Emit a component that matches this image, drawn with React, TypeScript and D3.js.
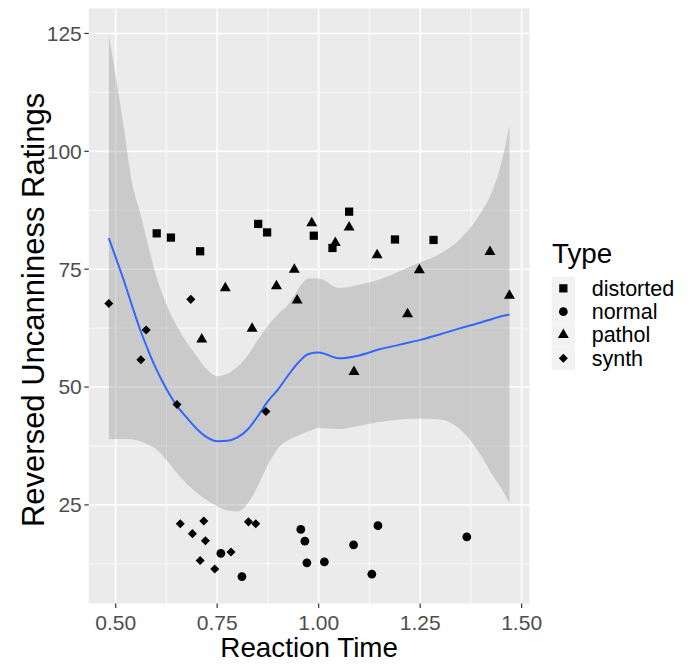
import React from 'react';
import * as d3 from 'd3';

// points, one pair of arrays per Type
const distortedRT = [0.601, 0.636, 0.708, 0.851, 0.873, 0.988, 1.034, 1.075, 1.188, 1.283];
const distortedRating = [82.6, 81.7, 78.8, 84.6, 82.8, 82.1, 79.5, 87.2, 81.3, 81.2];
const normalRT = [0.759, 0.811, 0.956, 0.966, 0.971, 1.014, 1.086, 1.131, 1.146, 1.365];
const normalRating = [14.7, 9.8, 19.8, 17.3, 12.7, 12.9, 16.5, 10.3, 20.6, 18.2];
const patholRT = [0.712, 0.77, 0.836, 0.896, 0.94, 0.947, 0.983, 1.041, 1.075, 1.087, 1.144, 1.219, 1.248, 1.422, 1.47];
const patholRating = [60.1, 71.0, 62.4, 71.4, 74.9, 68.4, 84.8, 80.6, 83.9, 53.2, 78.0, 65.5, 74.8, 78.7, 69.4];
const synthRT = [0.483, 0.562, 0.575, 0.651, 0.659, 0.685, 0.689, 0.708, 0.717, 0.721, 0.744, 0.784, 0.827, 0.845, 0.87];
const synthRating = [67.7, 55.8, 62.1, 46.3, 21.0, 68.6, 18.9, 13.2, 21.6, 17.4, 11.4, 15.0, 21.4, 21.0, 44.8];

// loess smooth + confidence band
const smoothX = [0.483, 0.5, 0.52, 0.54, 0.56, 0.58, 0.6, 0.625, 0.65, 0.675, 0.7, 0.725, 0.75, 0.775, 0.8, 0.825, 0.85, 0.875, 0.9, 0.925, 0.95, 0.975, 1.0, 1.05, 1.1, 1.15, 1.2, 1.25, 1.3, 1.35, 1.4, 1.43, 1.45, 1.47];
const smoothFit = [81.6, 77.5, 72.6, 67.3, 62.2, 57.8, 53.8, 49.6, 46.1, 43.5, 41.1, 39.3, 38.5, 38.6, 39.3, 41.0, 43.8, 47.0, 49.5, 52.5, 55.2, 57.0, 57.3, 56.1, 56.7, 58.0, 59.0, 60.0, 61.2, 62.5, 63.7, 64.5, 65.0, 65.4];
const smoothUpper = [124.6, 116, 105, 93.5, 87, 80, 73.5, 67.5, 63, 59.5, 56.5, 53.7, 52.3, 52.8, 54.3, 56.7, 60, 63, 65.5, 67.5, 70.8, 73, 73, 71, 71.7, 72.8, 74.6, 76.4, 78.3, 81.5, 87, 92, 97.5, 105.4];
const smoothLower = [38.9, 39, 39, 38.9, 38.5, 37.8, 36.8, 34.5, 31.8, 29.5, 27.6, 26, 24.7, 23.8, 23.6, 25.3, 29, 33.5, 37, 38.7, 39.7, 40.6, 41.3, 41.1, 41.8, 42.6, 43.1, 43.3, 43.1, 40.9, 35.5, 31.1, 28.5, 25.4];

const types = ['distorted', 'normal', 'pathol', 'synth'];
const xTicks = [0.5, 0.75, 1.0, 1.25, 1.5];
const xMinor = [0.625, 0.875, 1.125, 1.375];
const yTicks = [25, 50, 75, 100, 125];
const yMinor = [12.5, 37.5, 62.5, 87.5, 112.5];

const FONT = '"Liberation Sans", Arial, sans-serif';

const shapePath = (type: string) => {
  if (type === 'distorted') return d3.symbol(d3.symbolSquare, 68)()!;
  if (type === 'normal') return d3.symbol(d3.symbolCircle, 60)()!;
  if (type === 'pathol') return d3.symbol(d3.symbolTriangle, 52)()!;
  return d3.symbol(d3.symbolSquare, 41)()!; // rotated below -> diamond
};

const Marker = ({ type, x, y }: { type: string; x: number; y: number }) => (
  <path
    d={shapePath(type)}
    transform={`translate(${x},${y})${type === 'synth' ? ' rotate(45)' : ''}`}
    fill="#000"
  />
);

export default function App() {
  const width = 688;
  const height = 667;

  const x = d3.scaleLinear().domain([0.4337, 1.5194]).range([88.8, 529.5]);
  const y = d3.scaleLinear().domain([4.06, 130.34]).range([603.6, 8.3]);
  const [px0, px1] = x.range();
  const [py0, py1] = y.range();

  const idx = d3.range(smoothX.length);
  const band = d3
    .area<number>()
    .x((i) => x(smoothX[i]))
    .y0((i) => y(smoothLower[i]))
    .y1((i) => y(smoothUpper[i]))
    .curve(d3.curveMonotoneX);
  const fit = d3
    .line<number>()
    .x((i) => x(smoothX[i]))
    .y((i) => y(smoothFit[i]))
    .curve(d3.curveMonotoneX);

  const series = [
    { type: 'distorted', xs: distortedRT, ys: distortedRating },
    { type: 'normal', xs: normalRT, ys: normalRating },
    { type: 'pathol', xs: patholRT, ys: patholRating },
    { type: 'synth', xs: synthRT, ys: synthRating },
  ];

  const keyX = 551.7;
  const keyY = 276.7;
  const keyH = 23.3;

  return (
    <svg
      width={width}
      height={height}
      style={{ position: 'absolute', left: 0, top: 0, background: '#fff' }}
      fontFamily={FONT}
    >
      {/* panel */}
      <rect x={px0} y={py1} width={px1 - px0} height={py0 - py1} fill="#EBEBEB" />
      {xMinor.map((t) => (
        <line key={'xm' + t} x1={x(t)} x2={x(t)} y1={py1} y2={py0} stroke="#fff" strokeWidth={0.8} />
      ))}
      {yMinor.map((t) => (
        <line key={'ym' + t} x1={px0} x2={px1} y1={y(t)} y2={y(t)} stroke="#fff" strokeWidth={0.8} />
      ))}
      {xTicks.map((t) => (
        <line key={'xg' + t} x1={x(t)} x2={x(t)} y1={py1} y2={py0} stroke="#fff" strokeWidth={1.6} />
      ))}
      {yTicks.map((t) => (
        <line key={'yg' + t} x1={px0} x2={px1} y1={y(t)} y2={y(t)} stroke="#fff" strokeWidth={1.6} />
      ))}

      {/* smooth */}
      <path d={band(idx)!} fill="#999999" fillOpacity={0.4} />
      <path d={fit(idx)!} fill="none" stroke="#3366FF" strokeWidth={2} />

      {/* points, on top of the band */}
      {series.map((s) =>
        s.xs.map((v, i) => <Marker key={s.type + i} type={s.type} x={x(v)} y={y(s.ys[i])} />)
      )}

      {/* axes */}
      {xTicks.map((t) => (
        <g key={'xt' + t}>
          <line x1={x(t)} x2={x(t)} y1={py0} y2={py0 + 4.5} stroke="#333" strokeWidth={1.2} />
          <text x={x(t)} y={629.5} textAnchor="middle" fontSize={21} fill="#4D4D4D">
            {d3.format('.2f')(t)}
          </text>
        </g>
      ))}
      {yTicks.map((t) => (
        <g key={'yt' + t}>
          <line x1={px0 - 4.5} x2={px0} y1={y(t)} y2={y(t)} stroke="#333" strokeWidth={1.2} />
          <text x={px0 - 7} y={y(t)} dy="0.35em" textAnchor="end" fontSize={21} fill="#4D4D4D">
            {t}
          </text>
        </g>
      ))}
      <text x={(px0 + px1) / 2} y={657} textAnchor="middle" fontSize={27.8} fill="#000">
        Reaction Time
      </text>
      <text
        transform={`translate(44,${(py0 + py1) / 2 + 4}) rotate(-90)`}
        textAnchor="middle"
        fontSize={31}
        fill="#000"
      >
        Reversed Uncanniness Ratings
      </text>

      {/* legend */}
      <text x={552} y={263} fontSize={27.8} fill="#000">
        Type
      </text>
      {types.map((t, i) => (
        <g key={'lg' + t}>
          <rect x={keyX} y={keyY + i * keyH} width={keyH} height={keyH} fill="#F2F2F2" />
          <Marker type={t} x={keyX + keyH / 2} y={keyY + i * keyH + keyH / 2} />
          <text x={591.7} y={keyY + i * keyH + keyH / 2} dy="0.35em" fontSize={21.5} fill="#000">
            {t}
          </text>
        </g>
      ))}
    </svg>
  );
}
